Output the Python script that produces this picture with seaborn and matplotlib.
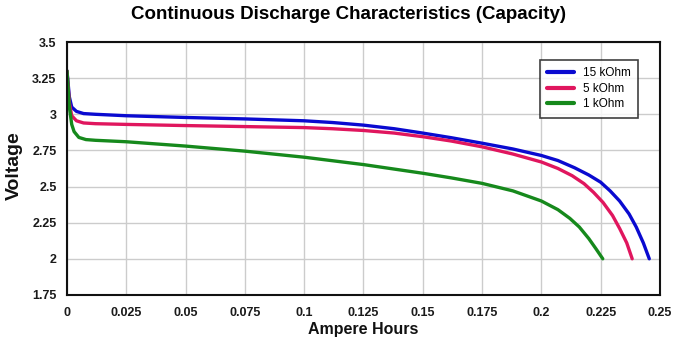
import matplotlib
matplotlib.use("Agg")
import matplotlib.pyplot as plt
import seaborn as sns
import pandas as pd

sns.set_style("white")
plt.rcParams['font.family'] = ['Liberation Sans', 'DejaVu Sans']
plt.rcParams['text.color'] = 'black'

series_names = ["15 kOhm", "5 kOhm", "1 kOhm"]
colors = ["#0a0ad0", "#e0165e", "#16891c"]

ah_15k = [0.0, 0.001, 0.002, 0.004, 0.007, 0.012, 0.025, 0.05, 0.075, 0.1, 0.112, 0.125, 0.138, 0.15, 0.162, 0.175, 0.188, 0.2, 0.207, 0.214, 0.22, 0.225, 0.229, 0.233, 0.237, 0.240, 0.243, 0.2455]
v_15k = [3.30, 3.12, 3.05, 3.02, 3.005, 3.0, 2.99, 2.978, 2.968, 2.955, 2.943, 2.925, 2.90, 2.87, 2.838, 2.80, 2.76, 2.715, 2.68, 2.63, 2.58, 2.53, 2.47, 2.40, 2.31, 2.22, 2.11, 2.0]

ah_5k = [0.0, 0.001, 0.002, 0.004, 0.007, 0.012, 0.025, 0.05, 0.075, 0.1, 0.112, 0.125, 0.138, 0.15, 0.162, 0.175, 0.188, 0.2, 0.207, 0.213, 0.218, 0.222, 0.226, 0.23, 0.233, 0.236, 0.2383]
v_5k = [3.30, 3.08, 2.99, 2.955, 2.94, 2.935, 2.93, 2.922, 2.915, 2.908, 2.90, 2.888, 2.87, 2.845, 2.815, 2.775, 2.725, 2.67, 2.625, 2.575, 2.52, 2.46, 2.39, 2.30, 2.21, 2.11, 2.0]

ah_1k = [0.0, 0.001, 0.002, 0.003, 0.005, 0.008, 0.012, 0.025, 0.05, 0.075, 0.1, 0.125, 0.15, 0.162, 0.175, 0.188, 0.2, 0.207, 0.212, 0.216, 0.22, 0.223, 0.2259]
v_1k = [3.30, 3.05, 2.93, 2.88, 2.84, 2.825, 2.82, 2.81, 2.78, 2.745, 2.703, 2.652, 2.592, 2.56, 2.522, 2.47, 2.40, 2.34, 2.28, 2.22, 2.14, 2.07, 2.0]

frames = []
for name, xs, ys in zip(series_names, [ah_15k, ah_5k, ah_1k], [v_15k, v_5k, v_1k]):
    frames.append(pd.DataFrame({"Ampere Hours": xs, "Voltage": ys, "series": name}))
df = pd.concat(frames, ignore_index=True)

x_ticks = [0, 0.025, 0.05, 0.075, 0.1, 0.125, 0.15, 0.175, 0.2, 0.225, 0.25]
x_labels = ["0", "0.025", "0.05", "0.075", "0.1", "0.125", "0.15", "0.175", "0.2", "0.225", "0.25"]
y_ticks = [1.75, 2, 2.25, 2.5, 2.75, 3, 3.25, 3.5]
y_labels = ["1.75", "2", "2.25", "2.5", "2.75", "3", "3.25", "3.5"]

fig = plt.figure(figsize=(6.8, 3.39), dpi=100)
ax = fig.add_axes([0.0985, 0.13, 0.872, 0.746])

sns.lineplot(data=df, x="Ampere Hours", y="Voltage", hue="series", hue_order=series_names,
             palette=colors, estimator=None, sort=False, linewidth=2.4, ax=ax)

ax.set_xlim(0, 0.25)
ax.set_ylim(1.75, 3.5)
ax.set_xticks(x_ticks)
ax.set_xticklabels(x_labels, fontweight="bold", fontsize=9)
ax.set_yticks(y_ticks)
ax.set_yticklabels(y_labels, fontweight="bold", fontsize=9)
ax.tick_params(axis="x", length=0, pad=9, colors="#1a1a1a")
ax.tick_params(axis="y", length=0, pad=7.5, colors="#1a1a1a")
ax.grid(True, color="#cccccc", linewidth=1)
for s in ax.spines.values():
    s.set_color("#111111")
    s.set_linewidth(1.5)

ax.set_xlabel("Ampere Hours", fontweight="bold", fontsize=11.5, labelpad=2, color="#111111")
ax.set_ylabel("Voltage", fontweight="bold", fontsize=14, labelpad=4, color="#111111")
ax.yaxis.set_label_coords(-0.075, 0.51)
fig.text(0.513, 0.958, "Continuous Discharge Characteristics (Capacity)", fontweight="bold",
         fontsize=13.5, ha="center", va="center", color="black")

leg = ax.legend(loc="upper left", bbox_to_anchor=(0.797, 0.93), borderaxespad=0, frameon=True,
                fancybox=False, fontsize=8.5, handlelength=2.3, borderpad=0.65, labelspacing=0.3,
                handletextpad=0.7)
leg.get_frame().set_edgecolor("#111111")
leg.get_frame().set_linewidth(1.2)
for line in leg.get_lines():
    line.set_linewidth(3)

fig.savefig("out.png", dpi=100)
